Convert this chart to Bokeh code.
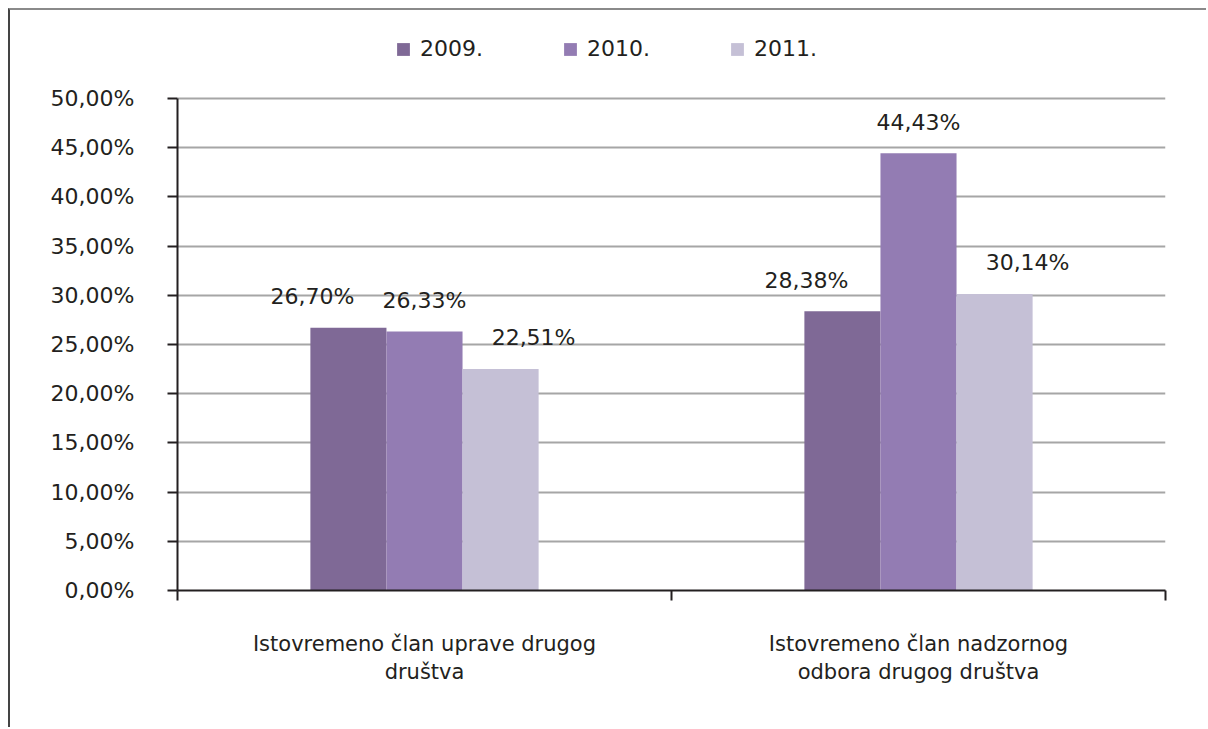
from bokeh.plotting import figure
from bokeh.models import ColumnDataSource, FixedTicker, Legend, LegendItem, Range1d
from bokeh.core.properties import value
from bokeh.embed import file_html
from bokeh.resources import INLINE

categories = ["Istovremeno član uprave drugog\ndruštva",
              "Istovremeno član nadzornog\nodbora drugog društva"]
years = ["2009.", "2010.", "2011."]
v2009 = [26.70, 28.38]
v2010 = [26.33, 44.43]
v2011 = [22.51, 30.14]
y_ticks = [0, 5, 10, 15, 20, 25, 30, 35, 40, 45, 50]
y_tick_labels = ["0,00%", "5,00%", "10,00%", "15,00%", "20,00%", "25,00%",
                 "30,00%", "35,00%", "40,00%", "45,00%", "50,00%"]
colors = ["#7f6996", "#937cb3", "#c5c0d6"]

series = [v2009, v2010, v2011]
dodges = [-0.154, 0.0, 0.154]
label_dx = [-36, 0, 33]
bar_w = 0.154
y_axis_max = 50
y_view_top = 56.91  # extra room above the axis for the legend

p = figure(width=1198, height=719, output_backend="svg", toolbar_location=None,
           x_range=Range1d(0, len(categories)), y_range=Range1d(0, y_view_top),
           min_border_left=167, min_border_right=43, min_border_top=20,
           min_border_bottom=139)
p.styles = {"border-top": "2px solid #8a8a8a", "border-left": "2px solid #444444",
            "margin-left": "8px", "margin-top": "8px"}
p.outline_line_color = None
p.background_fill_color = "white"
p.border_fill_color = "white"

items = []
for k, (vals, yr) in enumerate(zip(series, years)):
    xs = [i + 0.5 + dodges[k] for i in range(len(categories))]
    labels = [("%.2f%%" % v).replace(".", ",") for v in vals]
    src = ColumnDataSource(dict(x=xs, top=vals, lab=labels))
    r = p.vbar(x="x", top="top", width=bar_w, bottom=0, source=src,
               fill_color=colors[k], line_color=None)
    items.append(LegendItem(label=yr, renderers=[r]))
    p.text(x="x", y="top", text="lab", source=src, x_offset=label_dx[k], y_offset=-31,
           text_align="center", text_baseline="alphabetic",
           text_font=value("DejaVu Sans"), text_font_size="22px", text_color="#231f20")

# axes
p.yaxis.bounds = (0, y_axis_max)
p.yaxis.ticker = FixedTicker(ticks=y_ticks)
p.yaxis.major_label_overrides = {t: l for t, l in zip(y_ticks, y_tick_labels)}
p.yaxis.major_label_text_font = "DejaVu Sans"
p.yaxis.major_label_text_font_size = "22px"
p.yaxis.major_label_text_color = "#231f20"
p.yaxis.major_label_standoff = 33
p.yaxis.major_tick_out = 10
p.yaxis.major_tick_in = 0
p.yaxis.minor_tick_line_color = None
p.yaxis.axis_line_color = "#231f20"
p.yaxis.axis_line_width = 2
p.yaxis.major_tick_line_color = "#231f20"
p.yaxis.major_tick_line_width = 2

centers = [i + 0.5 for i in range(len(categories))]
bounds = [i for i in range(len(categories) + 1)]
p.xaxis.ticker = FixedTicker(ticks=centers, minor_ticks=bounds)
p.xaxis.major_label_overrides = {c: lab for c, lab in zip(centers, categories)}
p.xaxis.major_label_text_font = "DejaVu Sans"
p.xaxis.major_label_text_font_size = "21px"
p.xaxis.major_label_text_color = "#231f20"
p.xaxis.major_label_standoff = 31
p.xaxis.major_tick_line_color = None
p.xaxis.minor_tick_out = 10
p.xaxis.minor_tick_in = 0
p.xaxis.minor_tick_line_color = "#231f20"
p.xaxis.minor_tick_line_width = 2
p.xaxis.axis_line_color = "#231f20"
p.xaxis.axis_line_width = 2

p.xgrid.grid_line_color = None
p.ygrid.grid_line_color = "#a6a6a6"
p.ygrid.grid_line_width = 2
p.ygrid.bounds = (0, y_axis_max)

legend = Legend(items=items, orientation="horizontal", location=(218, 529),
                padding=0, margin=0, spacing=79, label_standoff=9,
                glyph_width=16, glyph_height=16,
                label_text_font="DejaVu Sans", label_text_font_size="22px",
                label_text_color="#231f20", border_line_color=None,
                background_fill_alpha=0)
p.add_layout(legend, "center")

open("out.html", "w").write(file_html(p, INLINE))
